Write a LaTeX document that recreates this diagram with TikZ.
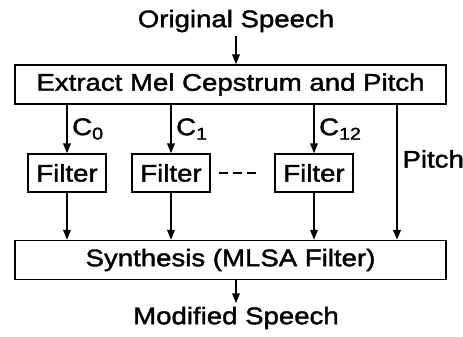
\documentclass[tikz,border=0pt]{standalone}
\usepackage{fontspec}
\setmainfont{Liberation Sans}[FakeStretch=1.15,FakeBold=1.6]
\usetikzlibrary{arrows.meta,positioning}
\newcommand{\coef}[1]{C\raisebox{-.35ex}{\fontsize{17}{19}\selectfont #1}}

\begin{document}
\begin{tikzpicture}[x=1pt,y=-1pt,
    every node/.style={font=\fontsize{24}{27}\selectfont},
    stagebox/.style={draw,line width=1.3pt,inner sep=0pt,
      minimum width=431pt,minimum height=39pt},
    filterbox/.style={draw,line width=1.3pt,inner sep=0pt,
      minimum width=78pt,minimum height=38pt},
    flow/.style={line width=1.8pt,-{Triangle[length=10pt,width=7.5pt]}}]
  \useasboundingbox (0,0) rectangle (463,337);

  \node (orig) at (236,21) {Original Speech};
  \node[stagebox] (extract) at (230.5,84.5) {Extract Mel Cepstrum and Pitch};
  \node[filterbox] (filterA) at (67,173) {Filter};
  \node[filterbox] (filterB) at (171,173) {Filter};
  \node[filterbox] (filterC) at (314,173) {Filter};
  \node[stagebox] (synth) at (230.5,260) {Synthesis (MLSA Filter)};
  \node (modif) at (236,318) {Modified Speech};
  \coordinate (pitchx) at (397,0);
  \coordinate (speechx) at (236,0);

  \draw[flow] (orig.south -| speechx) -- (extract.north -| speechx);
  \draw[flow] (extract.south -| filterA) -- (filterA.north)
    node[midway,right=1pt] {\coef{0}};
  \draw[flow] (extract.south -| filterB) -- (filterB.north)
    node[midway,right=1pt] {\coef{1}};
  \draw[flow] (extract.south -| filterC) -- (filterC.north)
    node[midway,right=1pt] {\coef{12}};
  \draw[flow,line width=2.6pt] (extract.south -| pitchx) -- (synth.north -| pitchx);
  \node[anchor=west] (pitch) at (399,159) {Pitch};

  \draw[flow] (filterA.south) -- (synth.north -| filterA);
  \draw[flow] (filterB.south) -- (synth.north -| filterB);
  \draw[flow] (filterC.south) -- (synth.north -| filterC);
  \draw[line width=1.8pt,dash pattern=on 9pt off 5pt,
    shorten <=8pt,shorten >=17pt] (filterB.east) -- (filterC.west);

  \draw[flow] (synth.south -| speechx) -- (modif.north -| speechx);
\end{tikzpicture}
\end{document}
